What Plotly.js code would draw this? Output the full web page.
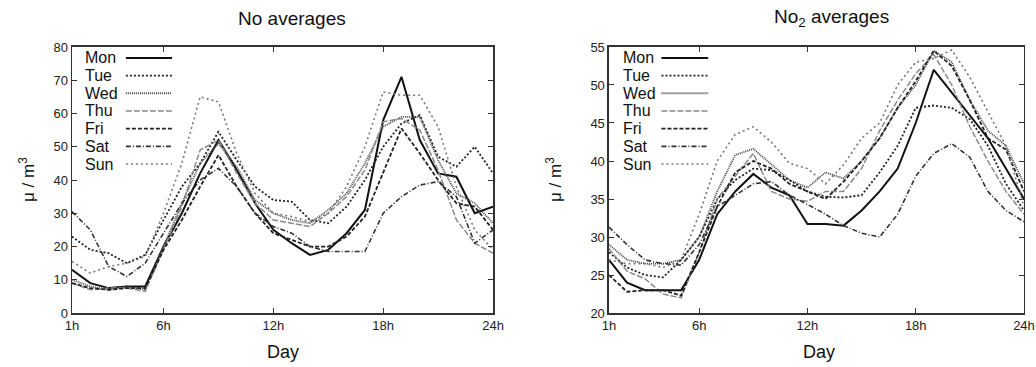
<!DOCTYPE html>
<html>
<head>
<meta charset="utf-8">
<script src="https://cdn.plot.ly/plotly-3.0.1.min.js"></script>
<style>html,body{margin:0;padding:0;background:#fff;}#chart{width:1036px;height:367px;}</style>
</head>
<body>
<div id="chart"></div>
<script>
// ---- data ----
const hours = [1,2,3,4,5,6,7,8,9,10,11,12,13,14,15,16,17,18,19,20,21,22,23,24];
const tickVals = [1,6,12,18,24];
const tickText = ["1h","6h","12h","18h","24h"];
const dayNames = ["Mon","Tue","Wed","Thu","Fri","Sat","Sun"];

// NO averages (left)
const noMon = [13,9,7.5,8,8,20,30,42,52,43,33,25,21,17.5,19,24,31,58,71,52,42,41,30,32];
const noTue = [23,19,18,15,17.5,28,38,45,54.5,46,38,34,33.5,28,27,32,40,50,57,59.5,47,44,50,42];
const noWed = [10,8,7,8,7,20,33,45,51,44,34,30,28,27,31,36,45,56,59,59,46,36,33,27];
const noThu = [9,7,7.5,7.5,6.5,19,32,49,52,42,33,28,27,26,30,35,43,57.5,58.5,55,43,28,21,18];
const noFri = [9,7.5,7,7.5,7.5,19,28,38,47.5,38,30,24,22,20,20,23,29,42,55.5,48,40,33,32,25];
const noSat = [30.5,25,14,11,15,24,33,40,43.5,38,30,26,24,20,18.5,18.5,18.5,30,35,38.5,39.5,35,21,25];
const noSun = [15.5,12,14,15,17,30,45,65,63.5,48,36,30,29,27.5,30,38,50,66.5,65.5,65.5,56,38,25,19];

// NO2 averages (right)
const no2Mon = [27,24,23,23,23,27,33,36,38.3,36.5,35.5,31.7,31.7,31.5,33.5,36,39,45,52,49,46,43,39,35];
const no2Tue = [28,26,25,24.7,27,30,35,37.5,39,38.8,37.5,36,35.3,35.2,35.5,38.5,42,47,47.3,47,45.5,42,37,33.5];
const no2Wed = [29,27,26.5,26.5,27,30,36,40.8,41.6,39.5,37.5,36.5,38.5,37.7,40,43,47,50,54.5,53,48,44,42,37];
const no2Thu = [28.5,25.5,24.5,22.5,22,28,35,38,41,36,35,34.7,36,36,39,44,48,51.5,54,50,44.5,40,36,33];
const no2Fri = [25,22.8,23,23,22.3,28,34,38.5,40,39,37,36,35,37.3,40,43,47,50.5,54.5,52.5,48,43,41.5,36];
const no2Sat = [31.3,29,27,26.5,26.3,29,34,35.5,37,37.3,35.5,34.3,33,31.5,30.5,30,33,38,41,42.3,40.5,36,33.5,32];
const no2Sun = [27,26.5,26.5,26,27,33,40,43.5,44.5,42.5,39.7,39,37,39.5,43,45,50,53,53.5,54.6,51,46.5,42,34];

const leftSeries = [noMon,noTue,noWed,noThu,noFri,noSat,noSun];
const rightSeries = [no2Mon,no2Tue,no2Wed,no2Thu,no2Fri,no2Sat,no2Sun];

// ---- styles ----
const styles = [
  {color:"#111", width:2.0, dash:"solid"},
  {color:"#222", width:1.8, dash:"2px,2px"},
  {color:"#444", width:1.8, dash:"1px,1px"},
  {color:"#8a8a8a", width:1.5, dash:"6px,2px"},
  {color:"#222", width:1.8, dash:"4px,2px"},
  {color:"#333", width:1.6, dash:"5px,2px,1px,2px"},
  {color:"#777", width:1.6, dash:"2px,3px"}
];
const FONT = "'Liberation Sans', Arial, sans-serif";

const traces = [];
leftSeries.forEach((ys,i)=>traces.push({x:hours,y:ys,type:"scatter",mode:"lines",name:dayNames[i],
  line:{color:styles[i].color,width:styles[i].width,dash:styles[i].dash},xaxis:"x",yaxis:"y",showlegend:false}));
rightSeries.forEach((ys,i)=>traces.push({x:hours,y:ys,type:"scatter",mode:"lines",name:dayNames[i],
  line:{color:styles[i].color,width:styles[i].width,dash:styles[i].dash},xaxis:"x2",yaxis:"y2",showlegend:false}));

const axBase = {showgrid:false,zeroline:false,showline:true,linecolor:"#333",linewidth:1.5,mirror:"ticks",
  ticks:"inside",ticklen:5,tickcolor:"#333",ticklabeloverflow:"allow",tickfont:{family:FONT,size:13,color:"#222"}};

const yDom = [0.147,0.872];
const layout = {
  width:1036,height:367,margin:{l:0,r:0,t:0,b:0},paper_bgcolor:"#fff",plot_bgcolor:"#fff",
  font:{family:FONT},
  xaxis:Object.assign({},axBase,{domain:[0.0695,0.4759],range:[1,24],tickvals:tickVals,ticktext:tickText,anchor:"y"}),
  yaxis:Object.assign({},axBase,{domain:yDom,range:[0,80],dtick:10,anchor:"x"}),
  xaxis2:Object.assign({},axBase,{domain:[0.5878,0.9884],range:[1,24],tickvals:tickVals,ticktext:tickText,anchor:"y2"}),
  yaxis2:Object.assign({},axBase,{domain:yDom,range:[20,55],dtick:5,anchor:"x2"}),
  annotations:[],shapes:[]
};

// titles
layout.annotations.push({text:"No averages",xref:"paper",yref:"paper",x:292/1036,y:1-18/367,showarrow:false,
  font:{family:FONT,size:19,color:"#111"},xanchor:"center",yanchor:"middle"});
layout.annotations.push({text:"No<sub>2</sub> averages",xref:"paper",yref:"paper",x:831/1036,y:1-18/367,showarrow:false,
  font:{family:FONT,size:19,color:"#111"},xanchor:"center",yanchor:"middle"});
[283,819].forEach(px=>layout.annotations.push({text:"Day",xref:"paper",yref:"paper",x:px/1036,y:1-352/367,
  showarrow:false,font:{family:FONT,size:18,color:"#111"},xanchor:"center",yanchor:"middle"}));
[27,554].forEach(px=>layout.annotations.push({text:"μ / m<sup>3</sup>",xref:"paper",yref:"paper",x:px/1036,y:1-180/367,
  showarrow:false,textangle:-90,font:{family:FONT,size:17,color:"#111"},xanchor:"center",yanchor:"middle"}));

// custom legends (text left, line sample right)
const legends = [
  {xr:"x domain",yr:"y domain",tx:0.026,l0:0.128,l1:0.2375},
  {xr:"x2 domain",yr:"y2 domain",tx:0.029,l0:0.1265,l1:0.239}
];
legends.forEach(lg=>{
  dayNames.forEach((d,i)=>{
    const yy = 0.959 - i*0.0665;
    layout.annotations.push({text:d,xref:lg.xr,yref:lg.yr,x:lg.tx,y:yy,showarrow:false,xanchor:"left",yanchor:"middle",
      font:{family:FONT,size:16,color:"#111"}});
    layout.shapes.push({type:"line",xref:lg.xr,yref:lg.yr,x0:lg.l0,x1:lg.l1,y0:yy,y1:yy,
      line:{color:styles[i].color,width:styles[i].width,dash:styles[i].dash}});
  });
});

Plotly.newPlot("chart",traces,layout,{displayModeBar:false,staticPlot:true});
</script>
</body>
</html>
